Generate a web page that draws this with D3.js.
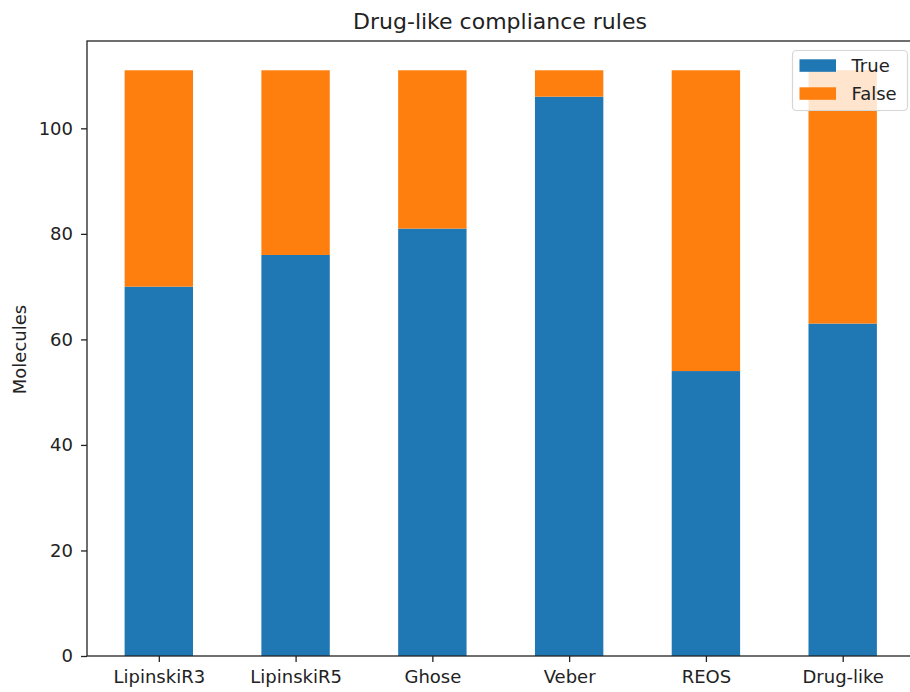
<!DOCTYPE html>
<html>
<head>
<meta charset="utf-8">
<script src="https://cdn.jsdelivr.net/npm/d3@7"></script>
<style>
  body { margin: 0; background: #fff; }
  svg { display: block; font-family: "DejaVu Sans", sans-serif; }
</style>
</head>
<body>
<svg id="chart" width="910" height="692"></svg>
<script>
const categories = ["LipinskiR3", "LipinskiR5", "Ghose", "Veber", "REOS", "Drug-like"];
const trueValues = [70, 76, 81, 106, 54, 63];
const falseValues = [41, 35, 30, 5, 57, 48];
const seriesNames = ["True", "False"];
const seriesColors = ["#1f77b4", "#ff7f0e"];
const yTicks = [0, 20, 40, 60, 80, 100];

const svg = d3.select("#chart");
const margin = { left: 87, top: 41, bottom: 656, right: 914.5 };

const totals = categories.map((c, i) => trueValues[i] + falseValues[i]);
const yMax = d3.max(totals) * 1.05;

const x = d3.scaleLinear().domain([-0.525, categories.length - 1 + 0.525]).range([margin.left, margin.right]);
const y = d3.scaleLinear().domain([0, yMax]).range([margin.bottom, margin.top]);
const barW = x(0.5) - x(0);

const data = categories.map((c, i) => ({ cat: c, i, t: trueValues[i], f: falseValues[i] }));

// bars
const g = svg.append("g");
g.selectAll("rect.true").data(data).enter().append("rect")
  .attr("x", d => x(d.i) - barW / 2)
  .attr("width", barW)
  .attr("y", d => y(d.t))
  .attr("height", d => y(0) - y(d.t))
  .attr("fill", seriesColors[0]);
g.selectAll("rect.false").data(data).enter().append("rect")
  .attr("x", d => x(d.i) - barW / 2)
  .attr("width", barW)
  .attr("y", d => y(d.t + d.f))
  .attr("height", d => y(d.t) - y(d.t + d.f))
  .attr("fill", seriesColors[1]);

// axes
const xAxis = d3.axisBottom(x).tickValues(d3.range(categories.length))
  .tickFormat(i => categories[i]).tickSize(6).tickPadding(8);
const yAxis = d3.axisLeft(y).tickValues(yTicks).tickSize(6).tickPadding(8);

const gx = svg.append("g").attr("transform", `translate(0,${margin.bottom})`).call(xAxis);
const gy = svg.append("g").attr("transform", `translate(${margin.left},0)`).call(yAxis);
[gx, gy].forEach(a => {
  a.select(".domain").remove();
  a.selectAll(".tick line").attr("stroke", "#222").attr("stroke-width", 1.3);
  a.selectAll(".tick text").attr("fill", "#222").style("font-size", "18px").style("font-family", "DejaVu Sans");
});

// spines
svg.append("rect")
  .attr("x", margin.left).attr("y", margin.top)
  .attr("width", margin.right - margin.left).attr("height", margin.bottom - margin.top)
  .attr("fill", "none").attr("stroke", "#222").attr("stroke-width", 1.3);

// title
svg.append("text").attr("x", 500).attr("y", 29)
  .attr("text-anchor", "middle").attr("fill", "#222").style("font-size", "22px")
  .text("Drug-like compliance rules");

// y label
svg.append("text")
  .attr("transform", `translate(25.5,${(margin.top + margin.bottom) / 2 + 1}) rotate(-90)`)
  .attr("text-anchor", "middle").attr("fill", "#222").style("font-size", "18px")
  .text("Molecules");

// legend
const lg = svg.append("g");
lg.append("rect").attr("x", 792.5).attr("y", 50.5).attr("width", 115).attr("height", 60)
  .attr("rx", 4).attr("fill", "#fff").attr("fill-opacity", 0.8)
  .attr("stroke", "#d6d6d6").attr("stroke-width", 1.2);
seriesNames.forEach((s, i) => {
  const yy = 59.3 + i * 28;
  lg.append("rect").attr("x", 799.5).attr("y", yy).attr("width", 36.5).attr("height", 12.5)
    .attr("fill", seriesColors[i]);
  lg.append("text").attr("x", 851.5).attr("y", yy + 12.8).attr("fill", "#222")
    .style("font-size", "18px").text(s);
});
</script>
</body>
</html>
